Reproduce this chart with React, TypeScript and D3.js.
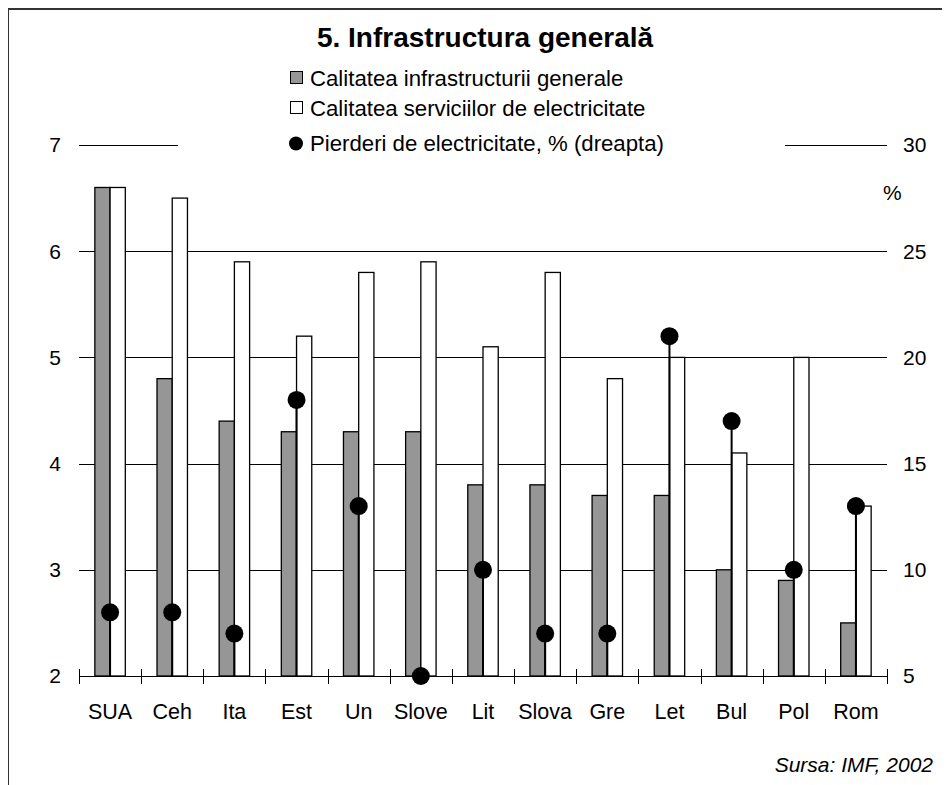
import React from "react";
import * as d3 from "d3";

const categories = ["SUA", "Ceh", "Ita", "Est", "Un", "Slove", "Lit", "Slova", "Gre", "Let", "Bul", "Pol", "Rom"];
const infrastructura = [6.6, 4.8, 4.4, 4.3, 4.3, 4.3, 3.8, 3.8, 3.7, 3.7, 3.0, 2.9, 2.5];
const electricitate = [6.6, 6.5, 5.9, 5.2, 5.8, 5.9, 5.1, 5.8, 4.8, 5.0, 4.1, 5.0, 3.6];
const pierderi = [8, 8, 7, 18, 13, 5, 10, 7, 7, 21, 17, 10, 13];
const leftTicks = [2, 3, 4, 5, 6, 7];
const rightTicks = [5, 10, 15, 20, 25, 30];
const legendLabels = [
  "Calitatea infrastructurii generale",
  "Calitatea serviciilor de electricitate",
  "Pierderi de electricitate, % (dreapta)",
];
const title = "5. Infrastructura generală";
const source = "Sursa: IMF, 2002";

const FONT = "'Liberation Sans', Arial, sans-serif";

export default function App() {
  const x = d3.scaleBand<string>().domain(categories).range([79, 887]).padding(0);
  const yL = d3.scaleLinear().domain([2, 7]).range([676, 145]);
  const yR = d3.scaleLinear().domain([5, 30]).range([676, 145]);
  const bw = x.bandwidth() * 0.245;
  const boundaries = [...categories.map((c) => x(c)!), 887];
  const legendRows = [86, 116, 151];

  return (
    <svg width={942} height={777} style={{ display: "block" }} fontFamily={FONT}>
      <g transform="translate(-8,-8)">
        <rect x={8} y={8} width={942} height={777} fill="#fff" />
        {/* gridlines */}
        {leftTicks.slice(1).map((t) => (
          <line key={t} x1={79} x2={887} y1={Math.round(yL(t)) + 0.5} y2={Math.round(yL(t)) + 0.5} stroke="#000" strokeWidth={1} />
        ))}
        {/* legend background */}
        <rect x={178} y={58} width={607} height={104} fill="#fff" />
        {/* bars */}
        {categories.map((c, i) => {
          const cx = x(c)! + x.bandwidth() / 2;
          return (
            <g key={c}>
              <rect x={cx - bw} y={yL(infrastructura[i])} width={bw} height={yL(2) - yL(infrastructura[i])} fill="#969696" stroke="#000" strokeWidth={1.3} />
              <rect x={cx} y={yL(electricitate[i])} width={bw} height={yL(2) - yL(electricitate[i])} fill="#fff" stroke="#000" strokeWidth={1.3} />
            </g>
          );
        })}
        {/* x axis */}
        <line x1={79} x2={887} y1={676.5} y2={676.5} stroke="#000" strokeWidth={1} />
        {boundaries.map((b, i) => (
          <line key={i} x1={Math.round(b) + 0.5} x2={Math.round(b) + 0.5} y1={669} y2={684} stroke="#000" strokeWidth={1} />
        ))}
        {/* drop lines and dots */}
        {categories.map((c, i) => {
          const cx = x(c)! + x.bandwidth() / 2;
          return (
            <g key={c}>
              <line x1={cx} x2={cx} y1={yR(pierderi[i])} y2={676} stroke="#000" strokeWidth={2} />
              <circle cx={cx} cy={yR(pierderi[i])} r={9} fill="#000" />
            </g>
          );
        })}
        {/* y labels */}
        {leftTicks.map((t) => (
          <text key={t} x={61} y={yL(t)} dy="0.35em" textAnchor="end" fontSize={21} fill="#000">{t}</text>
        ))}
        {rightTicks.map((t) => (
          <text key={t} x={903} y={yR(t)} dy="0.35em" textAnchor="start" fontSize={21} fill="#000">{t}</text>
        ))}
        <text x={883} y={193} dy="0.35em" fontSize={21} fill="#000">%</text>
        {/* x labels */}
        {categories.map((c) => (
          <text key={c} x={x(c)! + x.bandwidth() / 2} y={719} textAnchor="middle" fontSize={21.5} fill="#000">{c}</text>
        ))}
        {/* title */}
        <text x={485} y={47} textAnchor="middle" fontSize={28} fontWeight="bold" fill="#000">{title}</text>
        {/* legend */}
        <rect x={290.5} y={legendRows[0] - 14.5} width={12} height={12} fill="#969696" stroke="#000" strokeWidth={1} />
        <rect x={290.5} y={legendRows[1] - 14.5} width={12} height={12} fill="#fff" stroke="#000" strokeWidth={1} />
        <circle cx={296} cy={legendRows[2] - 7.5} r={7} fill="#000" />
        {legendLabels.map((l, i) => (
          <text key={l} x={310} y={legendRows[i]} fontSize={22.2} fill="#000">{l}</text>
        ))}
        {/* source */}
        <text x={933} y={772} textAnchor="end" fontSize={21} fontStyle="italic" fill="#000">{source}</text>
        {/* frame */}
        <path d="M8,785 V9 H950" fill="none" stroke="#333" strokeWidth={2} />
      </g>
    </svg>
  );
}
